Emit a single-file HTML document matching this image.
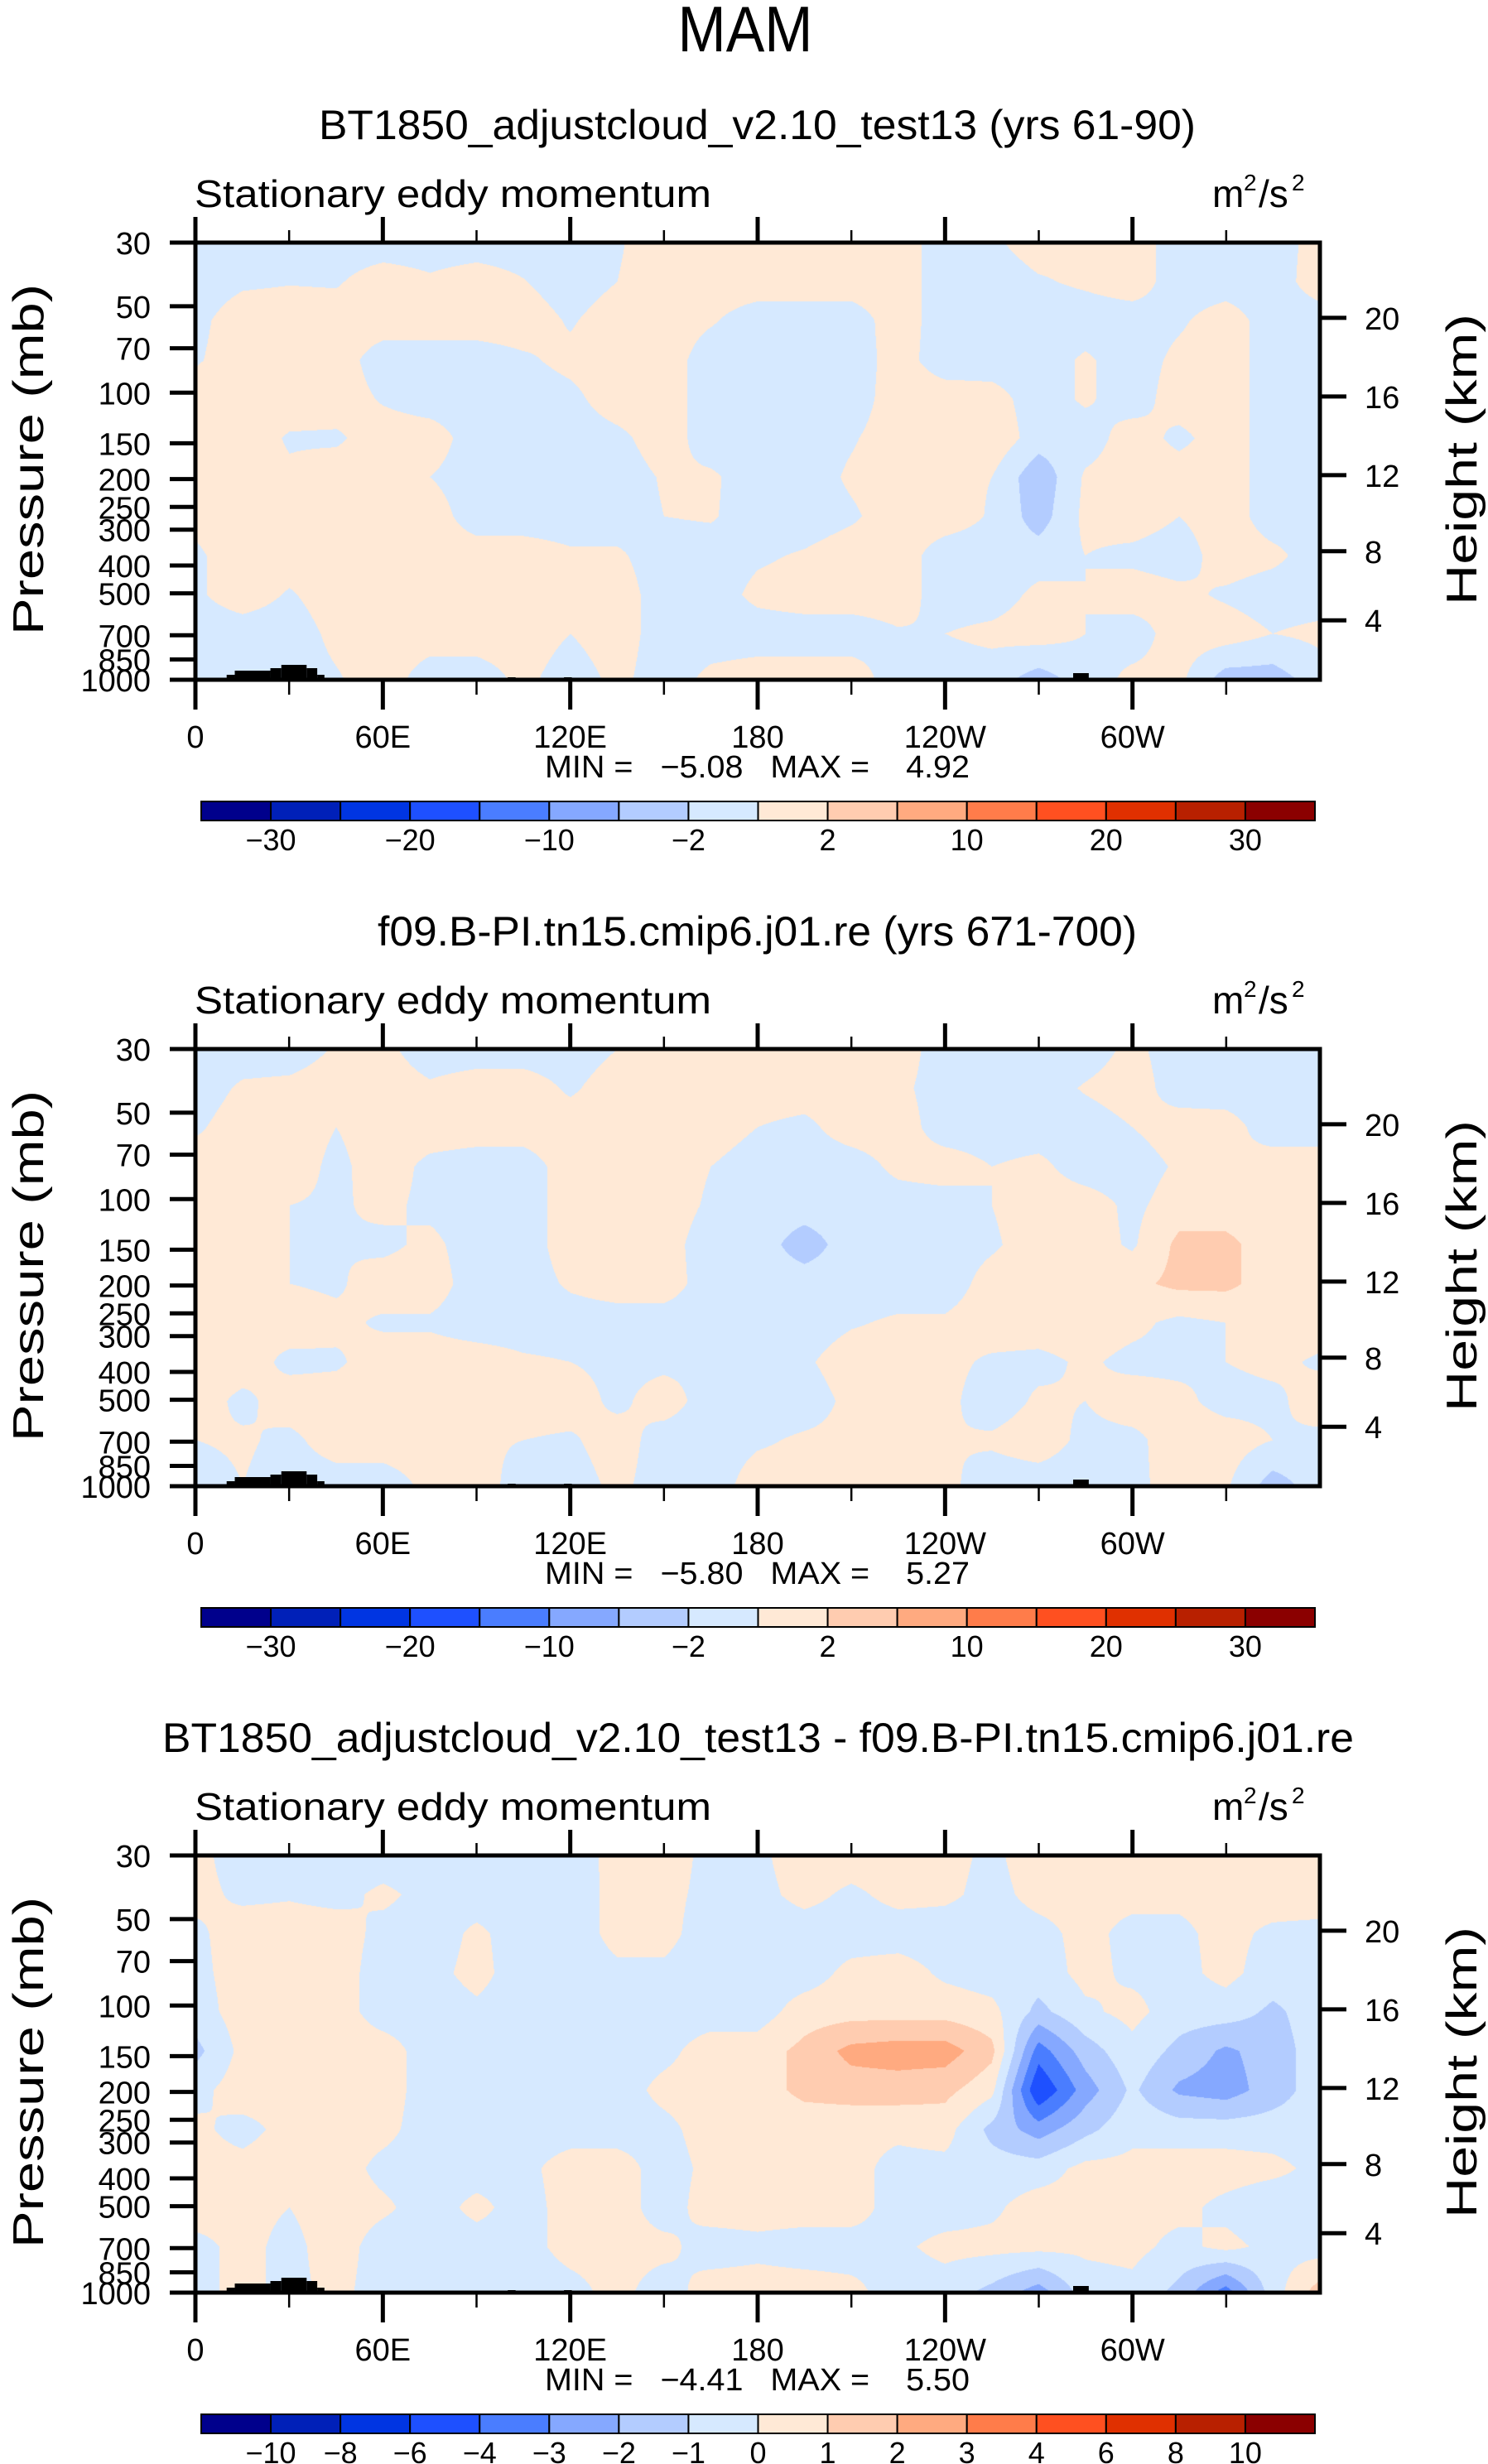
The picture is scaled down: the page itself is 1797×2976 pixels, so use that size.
<!DOCTYPE html>
<html><head><meta charset="utf-8">
<style>
html,body{margin:0;padding:0;background:#fff;}
#wrap{position:relative;width:1797px;height:2976px;overflow:hidden;}
canvas{position:absolute;left:236px;}
svg{position:absolute;left:0;top:0;}
text{font-family:"Liberation Sans",sans-serif;fill:#000;}
</style></head>
<body>
<div id="wrap">
<canvas id="c0" width="1358" height="528" style="top:293px"></canvas>
<canvas id="c1" width="1358" height="528" style="top:1267px"></canvas>
<canvas id="c2" width="1358" height="528" style="top:2241px"></canvas>
<svg id="chart" width="1797" height="2976"></svg>
</div>
<script>
// ---- data ----
const lonCategories = [0,15,30,45,60,75,90,105,120,135,150,165,180,195,210,225,240,255,270,285,300,315,330,345,360];
const pressureLevels = [30,41,56,77,105,144,197,270,370,506,693,1000];
const p1Values = [
[-1,-1,-1,-1,-1,-1,-1,-1,-1,-0.2,1,0.5,1,1,1,1,-1,-0.3,0.8,0.5,1,-1,-1,-1,0.8],
[-1,-0.3,-0.1,-0.2,1,0.3,1,0.1,-1,0,1,1,1,1,1,1,-1,-1,-0.2,0.3,1,-1,-1,-1,1],
[-0.5,1,1,1,1,1,1,1,-0.2,1,1,0.2,-1,-1,-1,1,-1,-1,-1,-1,-1,-0.3,1,-1,-1],
[-0.2,1,1,1,-1,-1,-1,-0.3,0.5,1,1,-1,-1,-1,-1,0.8,-1,-1,-1,0.3,-1,0.5,1,-1,-1],
[1,1,1,1,-0.2,-1,-1,-1,-0.5,1,1,-1,-1,-1,-1,1,1,0.8,-1,0.3,-1,1,1,-1,-1],
[1,1,-0.2,-0.3,1,1,-1,-1,-1,-0.5,1,-1,-1,-1,-0.2,1,1,1.5,-1,-1,1,-0.5,1,-1,-1],
[1,1,0.3,1,1,0,-1,-1,-1,-1,0.2,0.3,-1,-1,0.3,1,0.5,0,-3.5,0.3,1,1,1,-1,-1],
[0.5,1,0.5,1,1,1,-1,-1,-1,-1,0,0.2,-1,-1,-0.3,1,1,-0.2,-3,0.5,1,0,1,-1,-0.5],
[-0.3,1,1,1,1,1,1,1,0.3,0.3,-1,-1,-0.3,0.2,1,1,-1,-1,-1,0,-0.5,-1,1,0.5,-1],
[-0.3,1,-0.2,1,1,1,0,1,1,1,-1,-1,0.5,1,1,1,-1,-1,0.5,0,1,0.5,-0.3,-1,-1],
[-1,-1,-1,0.5,1,1,1,1,0,1,-1,-1,-1,-1,-1,-0.2,0,0.5,1,0,-1,1,1,0,0.5],
[-1,-1,-1,-0.2,1,-1,-1,0.5,-1,0.5,-1,0.5,1,1,1,-1,-1,-1,-3,-1,0.5,0.5,-3,-3,-1]];
const p2Values = [
[-1,-1,-1,0.2,0.5,-1,-1,-1,-1,0,1,1,1,1,1,1,-1,-1,-1,-1,0.5,-1,-1,-1,-1],
[-1,0.3,0.5,1,1,0.3,1,1,-0.3,1,1,1,1,1,1,0.5,-1,-1,-1,0.2,1,-1,-1,-1,-1],
[-0.3,1,1,0,1,1,1,1,1,1,1,1,0,-0.5,1,1,-1,-1,-1,-1,0,1,0.8,-1,-1],
[1,0,1,-0.5,1,-0.5,-1,-1,1,1,1,0,-1,-1,-1,0.5,1,0,0.5,-1,-1,0.3,0,1,1],
[1,1,0,-0.3,0.5,-0.5,-1,-1,1,1,1,-0.3,-1,-1,-1,-1,-1,0,1,1,-0.5,1,1,1,1],
[1,1,0,0,-0.5,0.5,-1,-1,1,1,0.8,-1,-1,-3,-1,-1,-1,-0.3,1,1,-0.3,2.5,2.5,1,1],
[1,1,0,-0.3,1,1,-1,-1,0.3,1,1,-1,-1,-1,-1,-1,-1,0.8,1,1.5,1.5,2.5,2.5,1,1],
[1,0,1,0.5,-0.3,-0.3,-1,-1,-1,-1,-1,-1,-1,-1,-0.2,0.3,0.3,1,1,1,0.5,-0.5,0,1,1],
[1,1,-0.5,-0.3,1,1,1,0.3,0,-0.5,-0.5,-0.3,-1,-0.3,1,1,0.5,-0.3,-0.5,0.3,-0.5,-0.5,0,0.5,-0.3],
[1,-0.5,1,1,1,1,0,1,1,-0.5,1,-1,-1,-1,0.5,1,0.5,-1,0.3,0,1,0.5,-0.7,-0.5,1],
[0,0.3,-0.5,1,1,1,0.3,0,-0.3,1,-1,-1,-0.3,0.3,0.5,0.3,0,0.3,1,-0.5,-0.5,1,1,0,-0.5],
[-1,0,-1,-1,-1,0.5,1,-1,-1,0.5,-1,-1,1,1,1,1,0.5,-1,-1,-1,-0.5,0.8,0.3,-3,-1]];
const p3Values = [
[0.3,-0.5,-0.5,-0.5,-0.5,-0.5,-0.5,-0.5,-0.3,0.2,0.5,-0.3,-0.2,0.5,0.5,0.5,0.3,-0.2,0.5,0.5,0.5,0.5,0.5,0.5,0.5],
[0.3,-0.2,-0.1,-0.3,0.2,-0.3,-0.5,-0.5,-0.5,0.3,0.3,-0.3,-0.3,0.3,-0.2,0.3,0.2,-0.3,0.3,0.3,0.3,0.2,0.3,0.5,0.5],
[-0.2,0.5,0.5,0.5,-0.3,-0.5,0.2,-0.5,-0.5,0.3,0.3,-0.5,-0.5,-0.5,-0.5,-0.5,-0.5,-0.5,-0.3,0.3,-0.3,-0.2,0.3,-0.2,-0.3],
[-0.3,0.5,0.5,0.5,-0.5,-0.3,0.3,-0.5,-0.5,-0.2,-0.2,-0.5,-0.5,-0.5,0.3,0.5,-0.2,-0.5,-0.5,0.3,-0.2,-0.3,0.3,-0.5,-0.5],
[-0.5,0.5,0.5,0.5,-0.5,-0.5,-0.2,-0.5,-0.5,-0.5,-0.5,-0.5,-0.5,0.5,0.6,0.6,0.6,0.3,-1.3,-0.2,0.3,-0.5,-0.5,-1.2,-0.5],
[-1.3,0.3,0.3,0.5,0.5,-0.5,-0.5,-0.5,-0.5,-0.5,-0.3,0.5,0.5,1.3,2.3,2.5,2.5,1.3,-3.5,-1.5,-0.3,-1.3,-2.2,-1.5,-0.5],
[-0.3,0.5,0.3,0.5,0.5,-0.5,-0.5,-0.5,-0.5,-0.5,0.3,0.5,0.5,1.3,1.5,1.5,1.3,0.3,-5,-2.5,-0.8,-2.2,-2.5,-1.5,-0.5],
[0.2,-0.3,0.3,0.5,0.3,-0.5,-0.5,-0.5,-0.5,-0.5,-0.3,0.5,0.3,0.3,0.2,0.2,0.4,-1.3,-2.5,-1.3,-0.3,-0.5,-0.5,-0.5,-0.5],
[0.3,0.3,0.5,0.5,-0.3,-0.5,-0.5,-0.3,0.5,0.5,-0.5,0.3,0.5,0.5,0.3,-0.3,-0.3,-0.5,-0.5,0.3,0.3,0.5,0.5,0.3,-0.3],
[0.5,0.3,0,0.5,0.2,-0.5,0.3,-0.5,0.5,0.5,-0.5,0.5,0.5,0.5,0.5,-0.5,-0.5,-0.2,0.5,0.3,0.3,0.3,-0.3,-0.8,-0.5],
[-0.3,0.3,-0.3,0.5,-0.5,-0.5,-0.5,-0.3,0.3,0.3,0.3,-0.5,-0.3,-0.5,-0.5,-0.2,0.3,0.3,0.3,0.2,0.3,-0.3,0.3,-0.3,-0.5],
[-0.3,0.3,-0.3,0.3,-0.5,-0.5,-0.3,-0.5,-0.3,0.3,-0.5,0.5,0.5,0.5,0.3,-0.5,-0.5,-1.3,-2.5,-0.5,-0.3,-1.3,-3.5,-0.5,1.5]];
const levelsAbs = [-30,-25,-20,-15,-10,-5,-2,0,2,5,10,15,20,25,30];
const levelsDiff = [-10,-8,-6,-4,-3,-2,-1,0,1,2,3,4,6,8,10];
const labelsAbs = ["","−30","","−20","","−10","","−2","","2","","10","","20","","30",""];
const labelsDiff = ["","−10","−8","−6","−4","−3","−2","−1","0","1","2","3","4","6","8","10",""];
const pressureTicks = [30,50,70,100,150,200,250,300,400,500,700,850,1000];
const lonTickLabels = ["0","60E","120E","180","120W","60W"];
const heightTickLabels = ["20","16","12","8","4"];
const titles = ["BT1850_adjustcloud_v2.10_test13 (yrs 61-90)","f09.B-PI.tn15.cmip6.j01.re (yrs 671-700)","BT1850_adjustcloud_v2.10_test13 - f09.B-PI.tn15.cmip6.j01.re"];
const minVals = ["−5.08","−5.80","−4.41"];
const maxVals = ["4.92","5.27","5.50"];
const terrainSteps = [[10,12.6,6],[12.6,24,11],[24,27.5,14],[27.5,35.6,18],[35.6,39,14],[39,41.3,6],[100,102.5,3],[118,120.5,3],[281,286,8],[286,309,2]];
const palette = ["#00008C","#0020B8","#0035E2","#1E50FF","#4A7DFF","#85A8FF","#B3CCFF","#D6E9FF","#FFE9D6","#FFCCB0","#FFAA80","#FF7C4A","#FF5020","#E03000","#B82000","#8B0000"];

// ---- layout ----
const X0=236, W=1358, PH=528, TOP=[293,1267,2241];
const heightFy=[0.172,0.352,0.532,0.706,0.864];
const lnR=Math.log(1000/30);
function xScale(lon){return X0+lon/360*W;}
function fyP(p){return Math.log(p/30)/lnR;}
const NS='http://www.w3.org/2000/svg';
const svg=document.getElementById('chart');
function mk(tag,attrs,txt){const e=document.createElementNS(NS,tag);for(const k in attrs)e.setAttribute(k,attrs[k]);if(txt!==undefined)e.textContent=txt;svg.appendChild(e);return e;}
function colorIdx(v,lv){let i=0;while(i<lv.length&&v>=lv[i])i++;return i;}
function hex(h){return [parseInt(h.substr(1,2),16),parseInt(h.substr(3,2),16),parseInt(h.substr(5,2),16)];}
const palRGB=palette.map(hex);

function drawField(ci,vals,lv){
  const cv=document.getElementById('c'+ci),ctx=cv.getContext('2d');
  const img=ctx.createImageData(W,PH);
  const rowFy=pressureLevels.map(fyP);
  const nC=lonCategories.length;
  for(let y=0;y<PH;y++){
    const fy=y/(PH-1);
    let r=0;while(r<rowFy.length-2&&fy>rowFy[r+1])r++;
    const t=Math.min(1,Math.max(0,(fy-rowFy[r])/(rowFy[r+1]-rowFy[r])));
    for(let x=0;x<W;x++){
      const lon=x/(W-1)*360;
      let c=0;while(c<nC-2&&lon>lonCategories[c+1])c++;
      const s=(lon-lonCategories[c])/(lonCategories[c+1]-lonCategories[c]);
      const v=(1-t)*((1-s)*vals[r][c]+s*vals[r][c+1])+t*((1-s)*vals[r+1][c]+s*vals[r+1][c+1]);
      const col=palRGB[colorIdx(v,lv)];
      const o=(y*W+x)*4;img.data[o]=col[0];img.data[o+1]=col[1];img.data[o+2]=col[2];img.data[o+3]=255;
    }
  }
  ctx.putImageData(img,0,0);
}

let e=mk('text',{x:900,y:62,'font-size':78,'text-anchor':'middle',textLength:163,lengthAdjust:'spacingAndGlyphs'},'MAM');



const titleExt=[[385,1444],[456,1373],[196,1635]];
for(let pi=0;pi<3;pi++){
  const top=TOP[pi], off=top-293, bot=top+PH;
  drawField(pi,[p1Values,p2Values,p3Values][pi],pi<2?levelsAbs:levelsDiff);
  e=mk('text',{x:titleExt[pi][0],y:168+off,'font-size':50,textLength:titleExt[pi][1]-titleExt[pi][0],lengthAdjust:'spacingAndGlyphs'},titles[pi]);
  
  
  e=mk('text',{x:235,y:250+off,'font-size':46,textLength:624,lengthAdjust:'spacingAndGlyphs'},'Stationary eddy momentum');
  
  
  e=mk('text',{x:1464,y:250+off,'font-size':46},'m');
  
  
  mk('text',{x:1502,y:230+off,'font-size':28},'2');
  mk('text',{x:1520,y:250+off,'font-size':46},'/s');
  mk('text',{x:1560,y:230+off,'font-size':28},'2');
  terrainSteps.forEach(st=>{
    e=mk('rect',{x:xScale(st[0]),y:bot-st[2],width:xScale(st[1])-xScale(st[0]),height:st[2],fill:'#000'});
    
    
  });
  e=mk('rect',{x:X0,y:top,width:W,height:PH,fill:'none',stroke:'#000','stroke-width':5});
  
  
  for(let lon=0;lon<360;lon+=30){
    const major=lon%60===0, x=xScale(lon);
    mk('line',{x1:x,y1:top,x2:x,y2:top-(major?31:15),stroke:'#000','stroke-width':major?5:2.5});
    mk('line',{x1:x,y1:bot,x2:x,y2:bot+(major?36:18),stroke:'#000','stroke-width':major?5:2.5});
    if(major){
      e=mk('text',{x:x,y:bot+82,'font-size':38,'text-anchor':'middle'},lonTickLabels[lon/60]);
      
      
    }
  }
  pressureTicks.forEach(p=>{
    const y=top+fyP(p)*PH;
    mk('line',{x1:X0,y1:y,x2:X0-31,y2:y,stroke:'#000','stroke-width':5});
    e=mk('text',{x:182,y:y+14,'font-size':38,'text-anchor':'end'},String(p));
    
    
  });
  heightTickLabels.forEach((l,i)=>{
    const y=top+heightFy[i]*PH;
    mk('line',{x1:X0+W,y1:y,x2:X0+W+32,y2:y,stroke:'#000','stroke-width':5});
    e=mk('text',{x:1648,y:y+14,'font-size':38},l);
    
    
  });
  e=mk('text',{x:0,y:0,'font-size':52,'text-anchor':'middle',textLength:424,lengthAdjust:'spacingAndGlyphs',transform:`translate(52,${top+262}) rotate(-90)`},'Pressure  (mb)');
  
  
  e=mk('text',{x:0,y:0,'font-size':52,'text-anchor':'middle',textLength:352,lengthAdjust:'spacingAndGlyphs',transform:`translate(1783,${top+262}) rotate(-90)`},'Height  (km)');
  
  
  e=mk('text',{x:658,y:939+off,'font-size':38,textLength:513,lengthAdjust:'spacingAndGlyphs',style:'white-space:pre'},'MIN =   '+minVals[pi]+'   MAX =    '+maxVals[pi]);
  
  
  const cbx=243,cbw=1345/16,cby=968+off;
  palette.forEach((c,i)=>{
    e=mk('rect',{x:cbx+i*cbw,y:cby,width:cbw,height:23,fill:c,stroke:'#000','stroke-width':2});
    
    
  });
  const labs=pi<2?labelsAbs:labelsDiff;
  labs.forEach((l,i)=>{
    if(!l)return;
    e=mk('text',{x:cbx+i*cbw,y:cby+59,'font-size':36,'text-anchor':'middle'},l);
    
    
  });
}
</script>
</body></html>
